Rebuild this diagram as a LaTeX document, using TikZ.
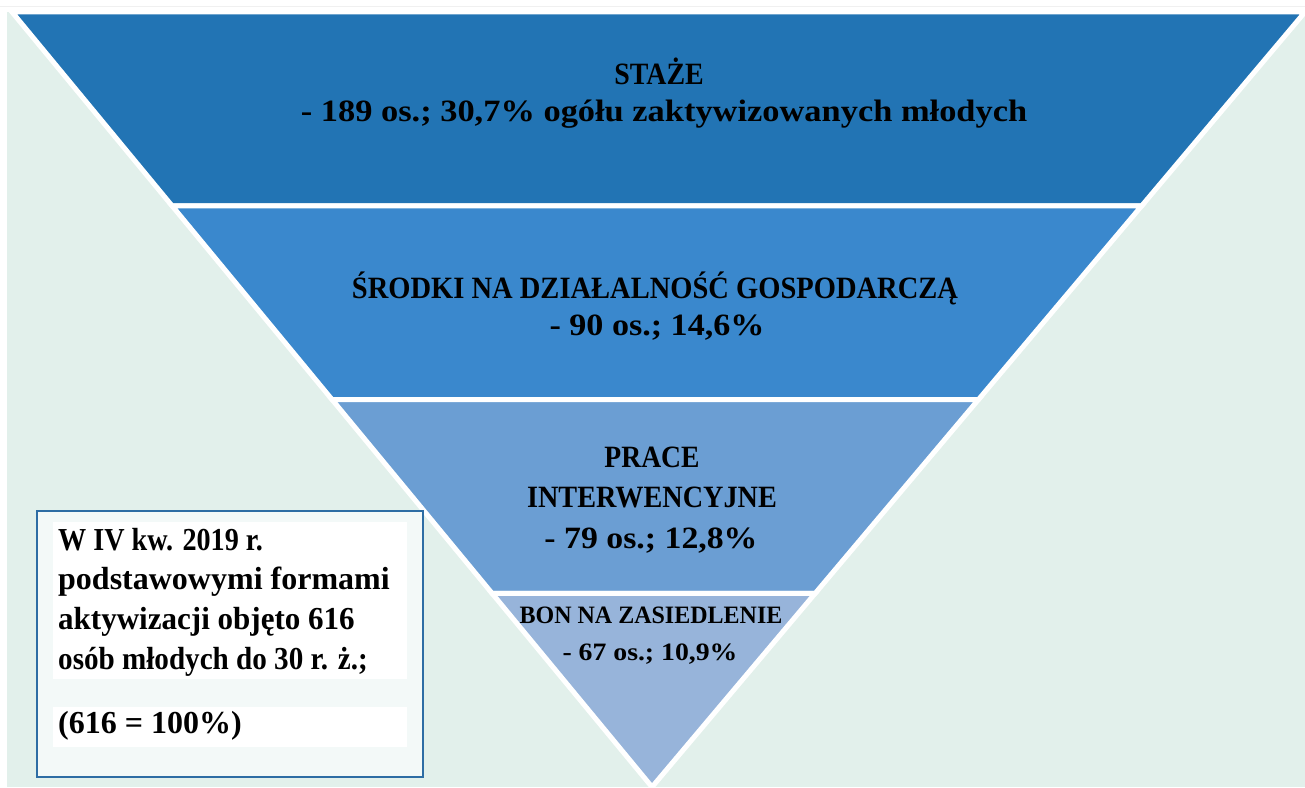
\documentclass[tikz,border=0pt]{standalone}
\usepackage{fontspec}
\usepackage{graphicx}
\setmainfont{Liberation Serif}
\usetikzlibrary{calc}
\definecolor{mintbg}{HTML}{E2F0EB}
\definecolor{bandA}{HTML}{2274B4}
\definecolor{bandB}{HTML}{3A88CD}
\definecolor{bandC}{HTML}{6B9ED3}
\definecolor{bandD}{HTML}{97B4DA}
\definecolor{boxline}{HTML}{2E6DA4}
\definecolor{boxfill}{HTML}{F3F9F8}
\newcommand{\hsc}[2]{\scalebox{#1}[1]{#2}}
\tikzset{
  band/.style={draw=white, line width=5bp, line join=miter},
  bandtext/.style={anchor=base, inner sep=0pt, font=\bfseries\fontsize{31bp}{37bp}\selectfont, text=black},
  smalltext/.style={anchor=base, inner sep=0pt, font=\bfseries\fontsize{25bp}{30bp}\selectfont, text=black},
  boxtext/.style={anchor=base west, inner sep=0pt, font=\bfseries\fontsize{32bp}{38bp}\selectfont, text=black},
}
\begin{document}
\begin{tikzpicture}[x=1bp,y=-1bp]
\useasboundingbox (0,0) rectangle (1305,787);
\fill[white] (0,0) rectangle (1305,787);
\draw[black!6, line width=0.8bp] (0,6) -- (1305,6);
\fill[mintbg] (7,12) rectangle (1305,787);
% funnel corners
\coordinate (L) at (12,12);
\coordinate (R) at (1305,12);
\coordinate (A) at (652,787);
\coordinate (L1) at ($(L)!0.25!(A)$);
\coordinate (R1) at ($(R)!0.25!(A)$);
\coordinate (L2) at ($(L)!0.5!(A)$);
\coordinate (R2) at ($(R)!0.5!(A)$);
\coordinate (L3) at ($(L)!0.75!(A)$);
\coordinate (R3) at ($(R)!0.75!(A)$);
\filldraw[band, fill=bandA] (L) -- (R) -- (R1) -- (L1) -- cycle;
\filldraw[band, fill=bandB] (L1) -- (R1) -- (R2) -- (L2) -- cycle;
\filldraw[band, fill=bandC] (L2) -- (R2) -- (R3) -- (L3) -- cycle;
\filldraw[band, fill=bandD] (L3) -- (R3) -- (A) -- cycle;
% band texts
\node[bandtext] (t1a) at (659,84) {\hsc{0.9}{STAŻE}};
\node[bandtext] (t1b) at (664,121) {\hsc{1.11}{- 189 os.; 30,7\% ogółu zaktywizowanych młodych}};
\node[bandtext] (t2a) at (655,298) {\hsc{0.92}{ŚRODKI NA DZIAŁALNOŚĆ GOSPODARCZĄ}};
\node[bandtext] (t2b) at (657,335) {\hsc{1.1}{- 90 os.; 14,6\%}};
\node[bandtext] (t3a) at (652,467) {\hsc{0.89}{PRACE}};
\node[bandtext] (t3b) at (652,507) {\hsc{0.91}{INTERWENCYJNE}};
\node[bandtext] (t3c) at (651,548) {\hsc{1.09}{- 79 os.; 12,8\%}};
\node[smalltext] (t4a) at (651,623) {\hsc{0.96}{BON NA ZASIEDLENIE}};
\node[smalltext] (t4b) at (650,660) {\hsc{1.11}{- 67 os.; 10,9\%}};
% info box
\filldraw[draw=boxline, fill=boxfill, line width=2bp] (37,511) rectangle (423,777);
\fill[white] (53,522) rectangle (407,679);
\fill[white] (53,707) rectangle (407,747);
\node[boxtext] (b1) at (58,550) {\hsc{0.88}{W IV kw. 2019 r.}};
\node[boxtext] (b2) at (58,589) {\hsc{1.0}{podstawowymi formami}};
\node[boxtext] (b3) at (58,629) {\hsc{0.97}{aktywizacji objęto 616}};
\node[boxtext] (b4) at (58,669) {\hsc{0.91}{osób młodych do 30 r. ż.;}};
\node[boxtext] (b5) at (58,733) {\hsc{1.0}{(616 = 100\%)}};
\end{tikzpicture}
\end{document}
